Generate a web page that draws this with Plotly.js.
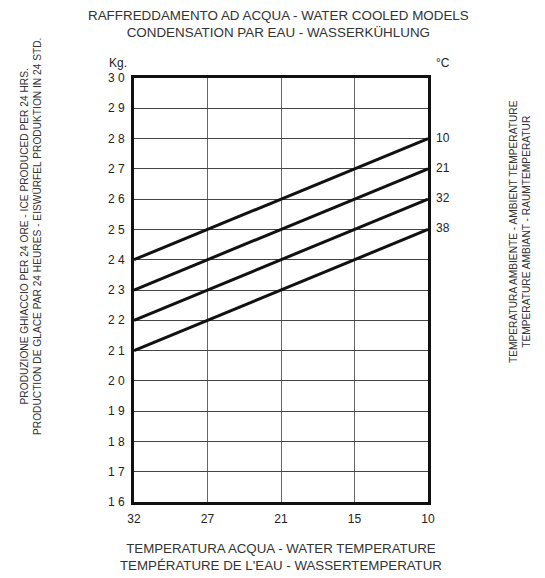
<!DOCTYPE html>
<html><head><meta charset="utf-8">
<script src="https://cdn.plot.ly/plotly-3.0.1.min.js"></script>
<style>html,body{margin:0;padding:0;background:#fff}#c{width:545px;height:578px}</style>
</head><body><div id="c"></div>
<script>
const waterTemps = ["32","27","21","15","10"];
const ambientLabels = ["10","21","32","38"];
const prod10 = [24,25,26,27,28];
const prod21 = [23,24,25,26,27];
const prod32 = [22,23,24,25,26];
const prod38 = [21,22,23,24,25];
const yTickVals = [16,17,18,19,20,21,22,23,24,25,26,27,28,29,30];
const yTickText = ["1 6","1 7","1 8","1 9","2 0","2 1","2 2","2 3","2 4","2 5","2 6","2 7","2 8","2 9","3 0"];

const series = [prod10, prod21, prod32, prod38];
const F = "Liberation Sans, Arial, sans-serif";
const traces = series.map((s,i)=>({
  x: waterTemps, y: s, type:'scatter', mode:'lines',
  line:{color:'#111', width:3}, hoverinfo:'skip', showlegend:false, cliponaxis:false
}));
const ann = series.map((s,i)=>({
  x: waterTemps.length-1, y: s[s.length-1], xref:'x', yref:'y',
  text: ambientLabels[i], showarrow:false, xanchor:'left', xshift:6, yshift:1,
  font:{family:F, size:12, color:'#222'}
}));
ann.push(
 {xref:'paper',yref:'paper',x:-0.055,y:(502-63)/424,xanchor:'center',yanchor:'middle',text:'Kg.',showarrow:false,font:{family:F,size:12,color:'#222'}},
 {xref:'paper',yref:'paper',x:(443-134)/294,y:(502-63)/424,xanchor:'center',yanchor:'middle',text:'°C',showarrow:false,font:{family:F,size:12,color:'#222'}},
 {xref:'paper',yref:'paper',x:0.49,y:(502-24)/424,xanchor:'center',yanchor:'middle',
  text:'RAFFREDDAMENTO AD ACQUA - WATER COOLED MODELS<br>CONDENSATION PAR EAU - WASSERKÜHLUNG',
  showarrow:false,font:{family:F,size:13.4,color:'#333'}},
 {xref:'paper',yref:'paper',x:(31-134)/294,y:(502-237)/424,xanchor:'center',yanchor:'middle',textangle:-90,
  text:'PRODUZIONE GHIACCIO PER 24 ORE - ICE PRODUCED PER 24 HRS.<br>PRODUCTION DE GLACE PAR 24 HEURES - EISWÜRFEL PRODUKTION IN 24 STD.',
  showarrow:false,font:{family:F,size:10.2,color:'#333'}},
 {xref:'paper',yref:'paper',x:(520-134)/294,y:(502-232)/424,xanchor:'center',yanchor:'middle',textangle:-90,
  text:'TEMPERATURA AMBIENTE - AMBIENT TEMPERATURE<br>TEMPERATURE AMBIANT - RAUMTEMPERATUR',
  showarrow:false,font:{family:F,size:10.2,color:'#333'}},
 {xref:'paper',yref:'paper',x:0.5,y:(502-557)/424,xanchor:'center',yanchor:'middle',
  text:'TEMPERATURA ACQUA - WATER TEMPERATURE<br>TEMPÉRATURE DE L\'EAU - WASSERTEMPERATUR',
  showarrow:false,font:{family:F,size:13.3,color:'#333'}}
);
const layout = {
  width:545, height:578, paper_bgcolor:'#fff', plot_bgcolor:'#fff',
  margin:{l:134, r:117, t:78, b:76},
  xaxis:{type:'category', range:[0,4], showgrid:true, gridcolor:'#666', gridwidth:1,
    showline:true, mirror:true, linecolor:'#111', linewidth:3, ticks:'', zeroline:false,
    tickfont:{family:F,size:12,color:'#222'}, ticklabelstandoff:4, fixedrange:true},
  yaxis:{range:[16,30], tickvals:yTickVals, ticktext:yTickText, showgrid:true, gridcolor:'#444', gridwidth:1,
    showline:true, mirror:true, linecolor:'#111', linewidth:3, ticks:'', zeroline:false,
    tickfont:{family:F,size:12,color:'#222'}, ticklabelstandoff:4, fixedrange:true},
  annotations: ann
};
Plotly.newPlot('c', traces, layout, {staticPlot:true});
</script></body></html>
